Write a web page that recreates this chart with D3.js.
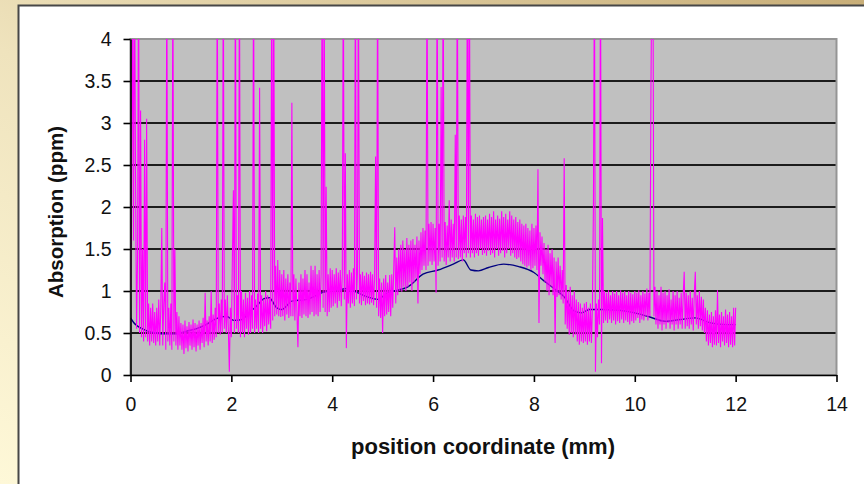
<!DOCTYPE html>
<html>
<head>
<meta charset="utf-8">
<script src="https://cdn.jsdelivr.net/npm/d3@7"></script>
<style>
  html, body { margin: 0; padding: 0; overflow: hidden; }
  #chart { width: 864px; height: 484px; }
  text { font-family: "Liberation Sans", Arial, sans-serif; }
</style>
</head>
<body>
<div id="chart"></div>
<script>
// x ticks (mm) and y ticks (ppm)
var xTicks = [0, 2, 4, 6, 8, 10, 12, 14];
var yTicks = [0, 0.5, 1, 1.5, 2, 2.5, 3, 3.5, 4];

// raw absorption signal, one reading every 0.02 mm from 0 to 12 mm
// one row per millimetre
var rawStep = 0.02;
var rawPpm = [
    1.05, 1.8, 5, 1.6, 5, 2.35, 0.55, 1.4, 5, 0.5, 3.15, 0.45, 1.5, 0.4, 2.8, 0.45, 3.05, 0.4, 0.85, 0.35, 0.8, 0.4, 0.85, 0.38, 0.75,
    0.35, 0.8, 0.4, 0.9, 0.35, 0.78, 1.75, 0.35, 0.85, 1.1, 0.3, 5, 0.4, 0.8, 0.35, 0.85, 0.3, 5, 0.4, 1.5, 0.35, 0.75, 0.3, 0.7, 0.35,
    0.62, 0.3, 0.6, 0.25, 0.65, 0.32, 0.58, 0.28, 0.63, 0.35, 0.6, 0.3, 0.66, 0.33, 0.62, 0.28, 0.6, 0.35, 0.65, 0.3, 0.62, 0.38, 0.68, 0.33, 0.98,
    0.4, 0.65, 0.35, 0.7, 0.4, 1.0, 0.38, 0.72, 0.42, 0.8, 0.45, 5, 0.5, 0.85, 0.48, 0.9, 0.5, 5, 0.55, 0.9, 0.5, 0.95, 0.55, 0.04, 0.8,
    0.45, 1.37, 2.2, 0.5, 5, 0.55, 0.95, 0.5, 5, 0.45, 1.0, 0.5, 0.9, 0.45, 0.98, 0.55, 0.92, 0.48, 1.0, 0.5, 0.95, 0.55, 5, 0.5, 0.9,
    0.55, 0.97, 0.5, 3.42, 0.55, 0.95, 0.5, 0.9, 0.58, 1.0, 0.52, 0.95, 0.6, 0.92, 0.55, 5, 0.65, 5, 0.7, 1.3, 0.72, 1.37, 0.7, 1.25, 0.69,
    1.2, 0.7, 1.25, 0.65, 1.15, 0.72, 1.2, 0.68, 1.1, 0.7, 3.24, 0.7, 1.2, 0.65, 1.15, 0.75, 0.33, 1.1, 0.7, 1.2, 0.68, 1.15, 0.72, 1.25, 0.7,
    1.2, 0.68, 1.1, 0.72, 1.3, 0.75, 1.25, 0.7, 1.3, 0.72, 1.2, 0.7, 1.25, 0.75, 1.2, 5, 0.8, 5, 0.75, 2.24, 0.7, 1.2, 0.75, 1.27, 0.8,
    1.25, 0.82, 1.2, 0.85, 1.27, 0.8, 1.22, 0.88, 1.25, 0.82, 1.2, 5, 0.9, 2.64, 0.32, 1.2, 0.85, 1.25, 0.8, 1.22, 0.85, 1.27, 0.82, 5, 0.9,
    1.2, 5, 0.85, 1.2, 0.83, 1.23, 0.88, 1.18, 0.83, 1.22, 0.85, 1.2, 0.84, 1.23, 0.86, 1.2, 0.83, 1.15, 2.6, 0.8, 5, 0.7, 1.15, 0.68, 1.1,
    0.5, 1.15, 0.7, 1.19, 0.72, 1.1, 0.75, 1.19, 0.7, 1.2, 0.8, 1.25, 1.76, 0.85, 1.4, 0.95, 1.5, 1.0, 1.55, 0.99, 1.6, 1.05, 1.5, 1.0, 1.63,
    1.05, 1.55, 1.1, 1.6, 1.0, 1.62, 1.1, 1.55, 1.15, 1.65, 0.85, 1.6, 1.2, 1.7, 1.25, 1.75, 1.3, 1.72, 1.25, 5, 1.3, 1.8, 1.35, 1.82, 1.31,
    1.8, 1.35, 1.75, 0.98, 5, 1.3, 1.8, 1.35, 3.43, 1.4, 5, 1.35, 1.82, 1.31, 1.78, 1.4, 2.08, 1.35, 1.85, 1.4, 1.8, 1.35, 2.86, 1.4, 5,
    1.38, 1.9, 1.4, 1.85, 1.35, 1.9, 1.45, 1.88, 1.4, 5, 1.45, 5, 1.4, 1.9, 1.45, 1.85, 1.4, 1.92, 1.45, 1.88, 1.42, 1.9, 1.5, 1.85, 1.43,
    1.88, 1.45, 1.9, 1.42, 1.85, 1.48, 1.92, 1.43, 1.88, 1.45, 1.95, 1.4, 1.85, 1.5, 1.9, 1.42, 1.86, 1.45, 1.95, 1.48, 1.88, 1.4, 1.92, 1.45, 1.85,
    1.5, 1.95, 1.42, 1.9, 1.45, 1.85, 1.4, 1.88, 1.38, 1.82, 1.4, 1.85, 1.35, 1.8, 1.32, 1.78, 1.3, 1.8, 1.28, 1.75, 1.3, 1.72, 1.25, 1.8, 1.27,
    1.75, 1.3, 1.78, 1.25, 2.45, 0.62, 1.7, 1.3, 1.65, 1.2, 1.57, 1.1, 1.5, 1.0, 1.55, 0.95, 1.45, 1.05, 1.5, 0.95, 1.4, 0.38, 1.35, 0.93, 1.4,
    0.95, 1.3, 0.9, 1.25, 0.85, 2.58, 0.6, 1.07, 0.55, 1.0, 0.48, 1.05, 0.5, 0.95, 0.45, 1.0, 0.48, 0.9, 0.4, 0.87, 0.36, 0.85, 0.4, 0.8, 0.38,
    0.85, 0.4, 0.87, 0.36, 0.8, 0.4, 0.85, 0.38, 0.8, 2.02, 5, 0.04, 0.85, 0.45, 0.9, 0.6, 5, 0.14, 1.87, 0.62, 1.0, 0.65, 0.98, 0.62, 1.01,
    0.66, 0.95, 0.62, 1.0, 0.65, 0.97, 0.6, 1.0, 0.64, 0.95, 0.62, 1.01, 0.66, 0.98, 0.62, 1.0, 0.65, 0.95, 0.63, 1.0, 0.6, 0.98, 0.64, 0.96, 0.62,
    1.0, 0.65, 0.98, 0.68, 1.01, 0.62, 0.95, 0.66, 1.0, 0.65, 0.97, 0.7, 1.03, 0.65, 0.98, 0.7, 3.37, 5, 5, 0.7, 1.05, 0.6, 1.0, 0.55, 0.95,
    0.6, 1.05, 0.53, 0.98, 0.6, 1.0, 0.55, 0.95, 0.62, 1.02, 0.55, 0.9, 0.6, 1.0, 0.53, 0.95, 0.6, 1.0, 0.55, 0.92, 0.6, 0.98, 0.55, 0.95, 1.23,
    0.55, 0.98, 0.58, 0.95, 0.55, 1.0, 0.6, 0.92, 0.53, 0.97, 1.23, 0.6, 0.95, 0.55, 1.0, 0.58, 0.93, 0.53, 0.9, 0.5, 0.8, 0.4, 0.77, 0.35, 0.72,
    0.38, 0.75, 0.33, 0.7, 0.36, 0.77, 0.35, 1.01, 0.38, 0.72, 0.33, 0.75, 0.4, 0.7, 0.35, 0.78, 0.38, 0.72, 0.33, 0.75, 0.36, 0.7, 0.33, 0.8, 0.35,
    0.8
];

// smoothed curve
var smoothMm = [0, 0.1, 0.2, 0.35, 0.5, 0.7, 0.9, 1.1, 1.3, 1.5, 1.7, 1.9, 2.05, 2.2, 2.35, 2.5, 2.65, 2.75, 2.9, 3.0,
    3.2, 3.5, 3.8, 4.1, 4.3, 4.5, 4.7, 4.9, 5.1, 5.3, 5.5, 5.8, 6.1, 6.4, 6.6, 6.75, 6.9, 7.1, 7.4, 7.7,
    8.0, 8.2, 8.4, 8.6, 8.8, 8.95, 9.1, 9.4, 9.7, 10.0, 10.3, 10.6, 10.9, 11.2, 11.5, 11.8, 12.0];
var smoothPpm = [0.68, 0.6, 0.56, 0.52, 0.5, 0.49, 0.49, 0.52, 0.55, 0.6, 0.67, 0.7, 0.65, 0.66, 0.74, 0.82, 0.91, 0.92, 0.8, 0.78,
    0.88, 0.9, 0.98, 1.01, 1.03, 0.98, 0.93, 0.9, 0.98, 1.01, 1.05, 1.2, 1.25, 1.32, 1.37, 1.25, 1.24, 1.28, 1.32, 1.29,
    1.22, 1.12, 1.03, 0.93, 0.76, 0.74, 0.78, 0.78, 0.77, 0.74, 0.69, 0.64, 0.66, 0.68, 0.62, 0.6, 0.6];

function init() {
    var W = 864, H = 484;
    // plot area box
    var left = 130.5, right = 836.5, top = 39, bottom = 375;

    var svg = d3.select("#chart")
        .append("svg")
        .attr("width", W)
        .attr("height", H);

    var defs = svg.append("defs");
    var grad = defs.append("linearGradient")
        .attr("id", "bg")
        .attr("x1", 0).attr("y1", 1)
        .attr("x2", 1).attr("y2", 0);
    grad.append("stop").attr("offset", "0%").attr("stop-color", "#fef8d8");
    grad.append("stop").attr("offset", "45%").attr("stop-color", "#efe3bd");
    grad.append("stop").attr("offset", "100%").attr("stop-color", "#c8ae78");

    defs.append("clipPath")
        .attr("id", "plotClip")
        .append("rect")
        .attr("x", left).attr("y", top)
        .attr("width", right - left).attr("height", bottom - top);

    // outer background + white chart frame
    svg.append("rect")
        .attr("width", W).attr("height", H)
        .attr("fill", "url(#bg)");
    svg.append("rect")
        .attr("x", 18.5).attr("y", 5.5)
        .attr("width", 900).attr("height", 500)
        .attr("fill", "#ffffff")
        .attr("stroke", "#474747")
        .attr("stroke-width", 2);

    var x = d3.scaleLinear().domain([0, 14]).range([left, right]);
    var y = d3.scaleLinear().domain([0, 4]).range([bottom, top]);

    // grey plot area
    svg.append("rect")
        .attr("x", left).attr("y", top)
        .attr("width", right - left).attr("height", bottom - top)
        .attr("fill", "#c0c0c0");

    // horizontal gridlines
    svg.append("g")
        .selectAll("line")
        .data(yTicks.filter(d => d > 0 && d < 4))
        .enter()
        .append("line")
        .attr("x1", left).attr("x2", right)
        .attr("y1", d => y(d)).attr("y2", d => y(d))
        .attr("stroke", "#1c1c1c")
        .attr("stroke-width", 1.8);

    // plot border (top / right in grey)
    svg.append("rect")
        .attr("x", left).attr("y", top)
        .attr("width", right - left).attr("height", bottom - top)
        .attr("fill", "none")
        .attr("stroke", "#959595")
        .attr("stroke-width", 2);

    var series = svg.append("g").attr("clip-path", "url(#plotClip)");

    var smoothLine = d3.line()
        .x((d, i) => x(smoothMm[i]))
        .y(d => y(d))
        .curve(d3.curveMonotoneX);
    series.append("path")
        .datum(smoothPpm)
        .attr("d", smoothLine)
        .attr("fill", "none")
        .attr("stroke", "#000080")
        .attr("stroke-width", 1.4);

    var rawLine = d3.line()
        .x((d, i) => x(i * rawStep))
        .y(d => y(d));
    series.append("path")
        .datum(rawPpm)
        .attr("d", rawLine)
        .attr("fill", "none")
        .attr("stroke", "#ff00ff")
        .attr("stroke-width", 1.1)
        .attr("stroke-linejoin", "bevel");

    // axes
    var yAxis = svg.append("g")
        .attr("transform", `translate(${left},0)`)
        .call(d3.axisLeft(y).tickValues(yTicks).tickFormat(d3.format("~g")).tickSize(7).tickSizeOuter(0).tickPadding(12));
    var xAxis = svg.append("g")
        .attr("transform", `translate(0,${bottom})`)
        .call(d3.axisBottom(x).tickValues(xTicks).tickFormat(d3.format("~g")).tickSize(7).tickSizeOuter(0).tickPadding(15));

    [yAxis, xAxis].forEach(ax => {
        ax.select(".domain").attr("stroke", "#000").attr("stroke-width", 1.6);
        ax.selectAll(".tick line").attr("stroke", "#000").attr("stroke-width", 1.6);
        ax.selectAll("text")
            .attr("fill", "#111")
            .style("font-family", "'Liberation Sans', Arial, sans-serif")
            .style("font-size", "19.5px");
    });

    // axis titles
    svg.append("text")
        .attr("transform", "translate(63,212) rotate(-90)")
        .attr("text-anchor", "middle")
        .attr("fill", "#111")
        .style("font-size", "20.5px")
        .style("font-weight", "bold")
        .text("Absorption (ppm)");

    svg.append("text")
        .attr("x", 483).attr("y", 454)
        .attr("text-anchor", "middle")
        .attr("fill", "#111")
        .style("font-size", "22px")
        .style("font-weight", "bold")
        .text("position coordinate (mm)");
}

window.onload = init;
</script>
</body>
</html>
